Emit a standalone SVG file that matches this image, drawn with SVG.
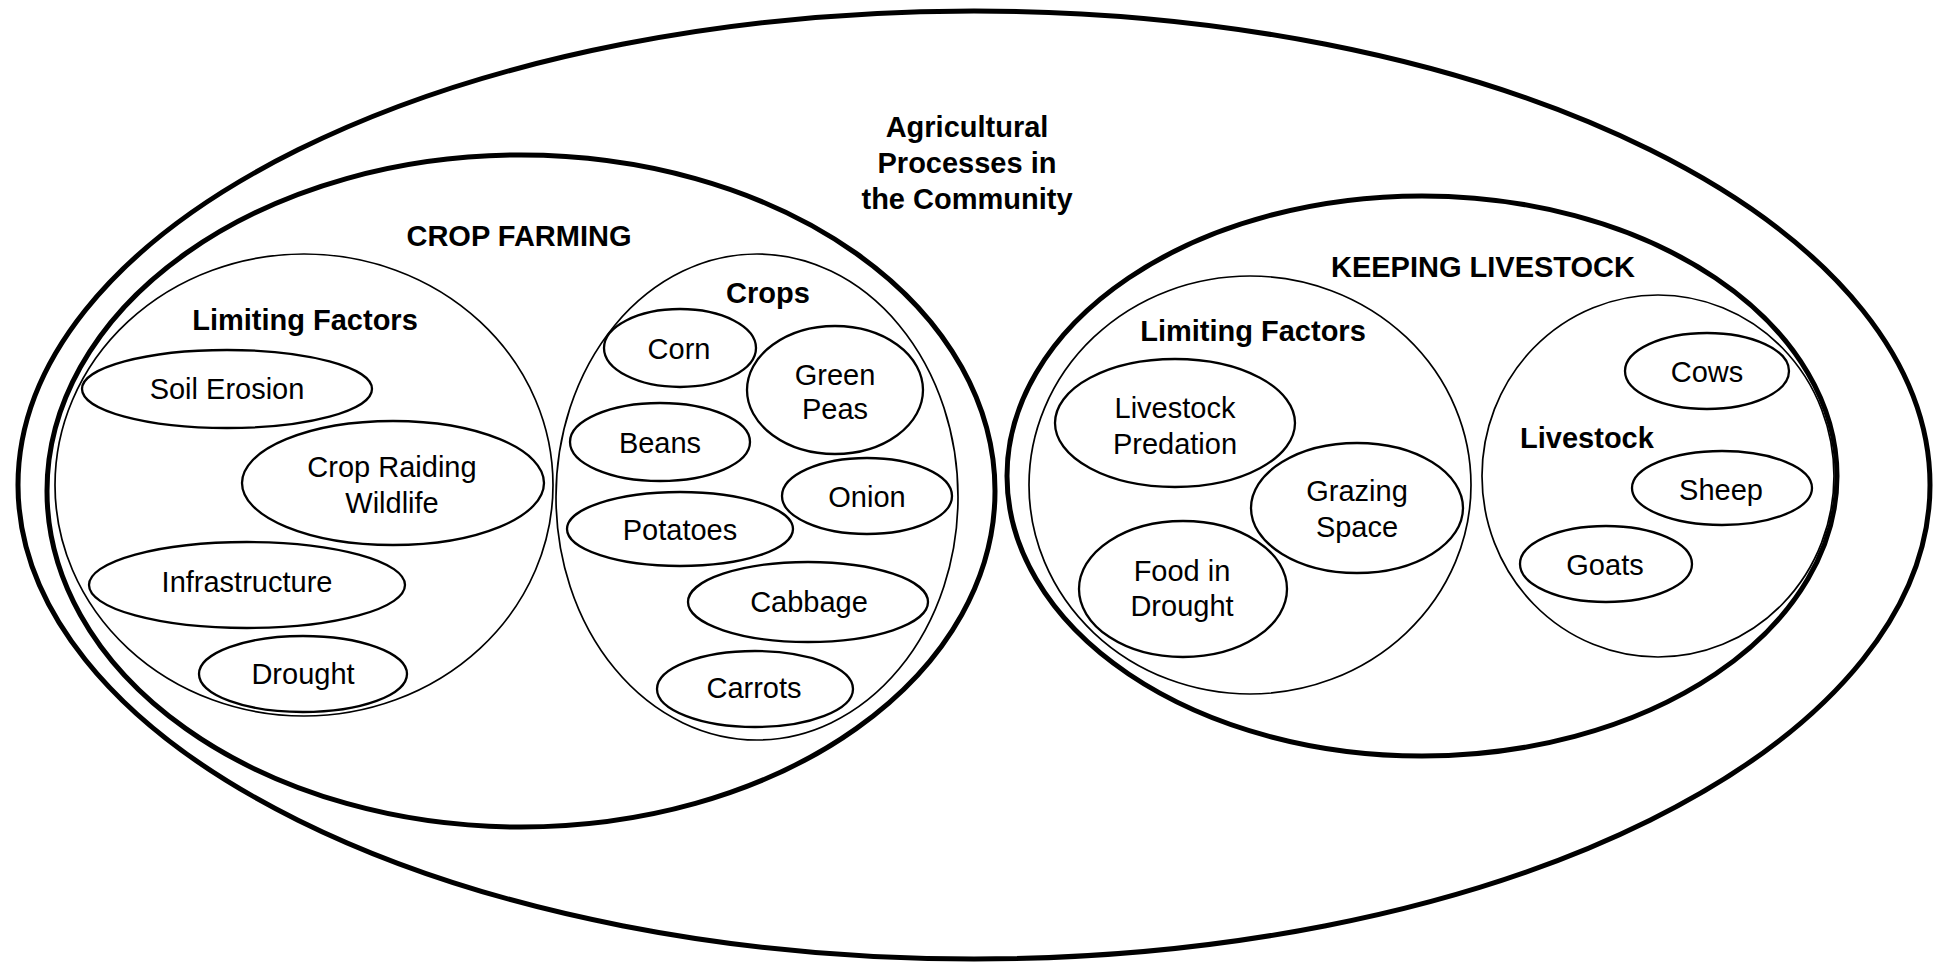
<svg xmlns="http://www.w3.org/2000/svg" width="1939" height="963" viewBox="0 0 1939 963">
  <style>
    .big { fill: #fff; stroke: #000; stroke-width: 5; }
    .group { fill: #fff; stroke: #000; stroke-width: 1.7; }
    .item { fill: #fff; stroke: #000; stroke-width: 2.3; }
    text { font-family: "Liberation Sans", Arial, sans-serif; font-size: 29px; fill: #000; text-anchor: middle; dominant-baseline: central; }
    .b { font-weight: bold; }
  </style>
  <rect width="1939" height="963" fill="#fff"/>

  <!-- Whole community -->
  <g id="community">
    <ellipse class="big" cx="974" cy="485" rx="956" ry="474"/>
    <text class="b" x="967" y="127">Agricultural</text>
    <text class="b" x="967" y="163">Processes in</text>
    <text class="b" x="967" y="199">the Community</text>
  </g>

  <!-- Crop farming -->
  <g id="crop-farming">
    <ellipse class="big" cx="521" cy="491" rx="474" ry="336"/>
    <text class="b" x="519" y="236">CROP FARMING</text>
  </g>

  <g id="crop-limiting-factors">
    <ellipse class="group" cx="304" cy="485" rx="249" ry="231"/>
    <text class="b" x="305" y="320">Limiting Factors</text>
  </g>
  <g id="soil-erosion">
    <ellipse class="item" cx="227" cy="389" rx="145" ry="39"/>
    <text x="227" y="389">Soil Erosion</text>
  </g>
  <g id="crop-raiding-wildlife">
    <ellipse class="item" cx="393" cy="483" rx="151" ry="62"/>
    <text x="392" y="467">Crop Raiding</text>
    <text x="392" y="503">Wildlife</text>
  </g>
  <g id="infrastructure">
    <ellipse class="item" cx="247" cy="585" rx="158" ry="43"/>
    <text x="247" y="582">Infrastructure</text>
  </g>
  <g id="crop-drought">
    <ellipse class="item" cx="303" cy="674" rx="104" ry="38"/>
    <text x="303" y="674">Drought</text>
  </g>

  <g id="crops">
    <ellipse class="group" cx="757" cy="497" rx="201" ry="243"/>
    <text class="b" x="768" y="293">Crops</text>
  </g>
  <g id="corn">
    <ellipse class="item" cx="680" cy="348" rx="76" ry="39"/>
    <text x="679" y="349">Corn</text>
  </g>
  <g id="green-peas">
    <ellipse class="item" cx="835" cy="390" rx="88" ry="64"/>
    <text x="835" y="375">Green</text>
    <text x="835" y="409">Peas</text>
  </g>
  <g id="beans">
    <ellipse class="item" cx="660" cy="442" rx="90" ry="39"/>
    <text x="660" y="443">Beans</text>
  </g>
  <g id="onion">
    <ellipse class="item" cx="867" cy="496" rx="85" ry="38"/>
    <text x="867" y="497">Onion</text>
  </g>
  <g id="potatoes">
    <ellipse class="item" cx="680" cy="529" rx="113" ry="37"/>
    <text x="680" y="530">Potatoes</text>
  </g>
  <g id="cabbage">
    <ellipse class="item" cx="808" cy="602" rx="120" ry="40"/>
    <text x="809" y="602">Cabbage</text>
  </g>
  <g id="carrots">
    <ellipse class="item" cx="755" cy="689" rx="98" ry="38"/>
    <text x="754" y="688">Carrots</text>
  </g>

  <!-- Keeping livestock -->
  <g id="keeping-livestock">
    <ellipse class="big" cx="1422" cy="476" rx="415" ry="280"/>
    <text class="b" x="1483" y="267">KEEPING LIVESTOCK</text>
  </g>

  <g id="livestock-limiting-factors">
    <ellipse class="group" cx="1250" cy="485" rx="221" ry="209"/>
    <text class="b" x="1253" y="331">Limiting Factors</text>
  </g>
  <g id="livestock-predation">
    <ellipse class="item" cx="1175" cy="423" rx="120" ry="64"/>
    <text x="1175" y="408">Livestock</text>
    <text x="1175" y="444">Predation</text>
  </g>
  <g id="grazing-space">
    <ellipse class="item" cx="1357" cy="508" rx="106" ry="65"/>
    <text x="1357" y="491">Grazing</text>
    <text x="1357" y="527">Space</text>
  </g>
  <g id="food-in-drought">
    <ellipse class="item" cx="1183" cy="589" rx="104" ry="68"/>
    <text x="1182" y="571">Food in</text>
    <text x="1182" y="606">Drought</text>
  </g>

  <g id="livestock">
    <ellipse class="group" cx="1658" cy="476" rx="176" ry="181"/>
    <text class="b" x="1587" y="438">Livestock</text>
  </g>
  <g id="cows">
    <ellipse class="item" cx="1707" cy="371" rx="82" ry="38"/>
    <text x="1707" y="372">Cows</text>
  </g>
  <g id="sheep">
    <ellipse class="item" cx="1722" cy="488" rx="90" ry="37"/>
    <text x="1721" y="490">Sheep</text>
  </g>
  <g id="goats">
    <ellipse class="item" cx="1606" cy="564" rx="86" ry="38"/>
    <text x="1605" y="565">Goats</text>
  </g>

  <!-- no connectors in this diagram -->
  <g id="connectors"/>
</svg>
